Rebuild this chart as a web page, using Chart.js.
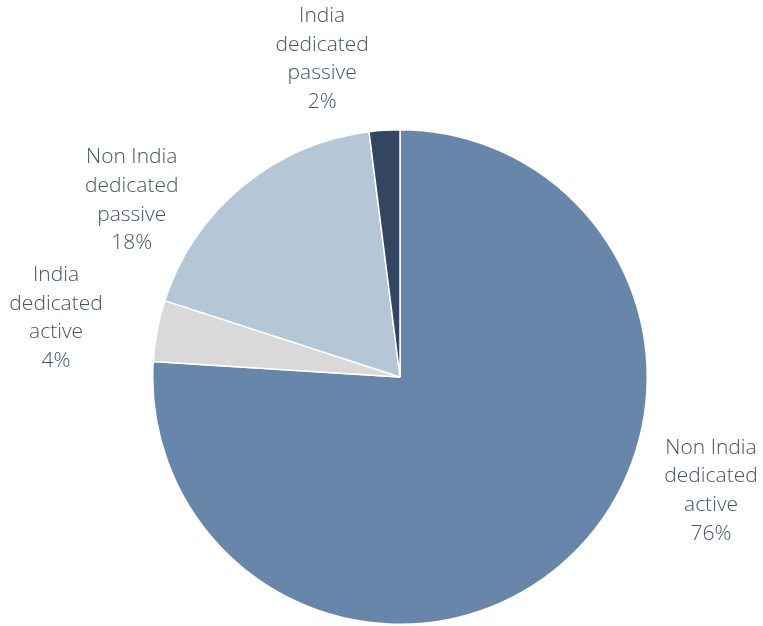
<!DOCTYPE html>
<html>
<head>
<meta charset="utf-8">
<script src="https://cdn.jsdelivr.net/npm/chart.js@4"></script>
<style>
  html, body { margin: 0; padding: 0; background: #ffffff; }
  #wrap { width: 763px; height: 626px; position: relative; }
</style>
</head>
<body>
<div id="wrap"><canvas id="c"></canvas></div>
<script>
// Fund categories and their share of holdings (%)
const categories = [
  ["Non India", "dedicated", "active"],
  ["India", "dedicated", "active"],
  ["Non India", "dedicated", "passive"],
  ["India", "dedicated", "passive"]
];
const shares = [76, 4, 18, 2];
const sliceColors = ["#6886A9", "#D9D9D9", "#B5C6D7", "#344562"];

// Label anchors as multiples of the pie radius, measured from the pie centre
const labelOffsets = [
  [1.258, 0.46],
  [-1.391, -0.238],
  [-1.085, -0.714],
  [-0.315, -1.286]
];

const outsideLabels = {
  id: "outsideLabels",
  afterDatasetsDraw(chart) {
    const ctx = chart.ctx;
    const meta = chart.getDatasetMeta(0);
    ctx.save();
    ctx.fillStyle = "#44546A";
    ctx.font = "300 21px 'Open Sans', 'Lato', sans-serif";
    ctx.textAlign = "center";
    ctx.textBaseline = "middle";
    const lineH = 28.7;
    meta.data.forEach((arc, i) => {
      const r = arc.outerRadius;
      const cx = arc.x + labelOffsets[i][0] * r;
      const cy = arc.y + labelOffsets[i][1] * r;
      const lines = categories[i].concat([shares[i] + "%"]);
      const top = cy - (lines.length - 1) * lineH / 2;
      lines.forEach((t, k) => ctx.fillText(t, cx, top + k * lineH));
    });
    ctx.restore();
  }
};

new Chart(document.getElementById("c"), {
  type: "pie",
  data: {
    labels: categories.map(c => c.join(" ")),
    datasets: [{
      data: shares,
      backgroundColor: sliceColors,
      borderColor: "#ffffff",
      borderWidth: 1.5
    }]
  },
  options: {
    responsive: true,
    maintainAspectRatio: false,
    animation: false,
    layout: { padding: { top: 129, bottom: 1, left: 152, right: 115 } },
    plugins: {
      legend: { display: false },
      tooltip: { enabled: false }
    }
  },
  plugins: [outsideLabels]
});
</script>
</body>
</html>
